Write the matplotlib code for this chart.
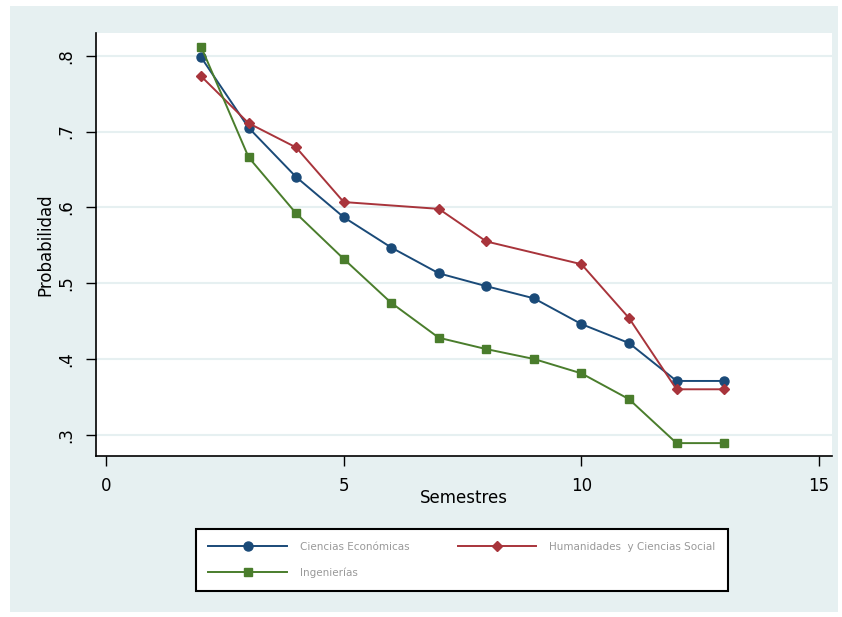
import matplotlib
matplotlib.use("Agg")
import matplotlib.pyplot as plt
from matplotlib.patches import Rectangle

# data
sem_eco = [2, 3, 4, 5, 6, 7, 8, 9, 10, 11, 12, 13]
prob_eco = [0.798, 0.705, 0.640, 0.587, 0.547, 0.513, 0.496, 0.480, 0.446, 0.421, 0.371, 0.371]

sem_hum = [2, 3, 4, 5, 7, 8, 10, 11, 12, 13]
prob_hum = [0.773, 0.711, 0.679, 0.607, 0.598, 0.555, 0.525, 0.454, 0.360, 0.360]

sem_ing = [2, 3, 4, 5, 6, 7, 8, 9, 10, 11, 12, 13]
prob_ing = [0.812, 0.666, 0.592, 0.532, 0.474, 0.428, 0.413, 0.400, 0.381, 0.347, 0.289, 0.289]

labels = ["Ciencias Económicas", "Humanidades  y Ciencias Social", "Ingenierías"]
xticks = [0, 5, 10, 15]
yticks = [0.3, 0.4, 0.5, 0.6, 0.7, 0.8]
ytick_labels = [".3", ".4", ".5", ".6", ".7", ".8"]

bg = "#e6f0f1"
W, H = 842, 617

fig = plt.figure(figsize=(W / 100, H / 100), dpi=100, facecolor="white")
fig.patches.append(Rectangle((10 / W, 5 / H), 828 / W, 606 / H,
                             transform=fig.transFigure, facecolor=bg,
                             edgecolor="none", zorder=-10))

ax = fig.add_axes([96 / W, 1 - 456 / H, 736 / W, 423 / H])
ax.set_facecolor("white")

l1, = ax.plot(sem_eco, prob_eco, color="#1a4a78", lw=1.4, marker="o", ms=6.5, label=labels[0])
l2, = ax.plot(sem_hum, prob_hum, color="#a8343b", lw=1.4, marker="D", ms=5.5, label=labels[1])
l3, = ax.plot(sem_ing, prob_ing, color="#4a7d2c", lw=1.4, marker="s", ms=6, label=labels[2])

ax.set_xlim(-0.21, 15.27)
ax.set_ylim(0.272, 0.830)
ax.set_xticks(xticks)
ax.set_yticks(yticks)
ax.set_yticklabels(ytick_labels, rotation=90, va="center")
ax.tick_params(axis="both", direction="out", length=7, width=1, labelsize=12, colors="black")
ax.tick_params(axis="y", pad=8)
ax.tick_params(axis="x", pad=8)
ax.grid(axis="y", color=bg, lw=1.5)
ax.set_axisbelow(True)
for s in ["top", "right"]:
    ax.spines[s].set_visible(False)
for s in ["left", "bottom"]:
    ax.spines[s].set_linewidth(1.2)

ax.set_xlabel("Semestres", fontsize=12, labelpad=-4)
ax.set_ylabel("Probabilidad", fontsize=12, labelpad=2)

# column-major filling -> eco, ing in column 1; hum in column 2
leg = fig.legend([l1, l3, l2], [labels[0], labels[2], labels[1]],
                 loc="center", bbox_to_anchor=(462 / W, 1 - 560 / H), ncol=2,
                 fontsize=7.5, frameon=True, fancybox=False, edgecolor="black",
                 facecolor="white", framealpha=1,
                 handlelength=7.5, columnspacing=4.6, labelspacing=1.5,
                 borderpad=1.2, handletextpad=1.3)
leg.get_frame().set_linewidth(1.5)
for t in leg.get_texts():
    t.set_color("#999999")

fig.savefig("out.png", dpi=100, facecolor="white")
